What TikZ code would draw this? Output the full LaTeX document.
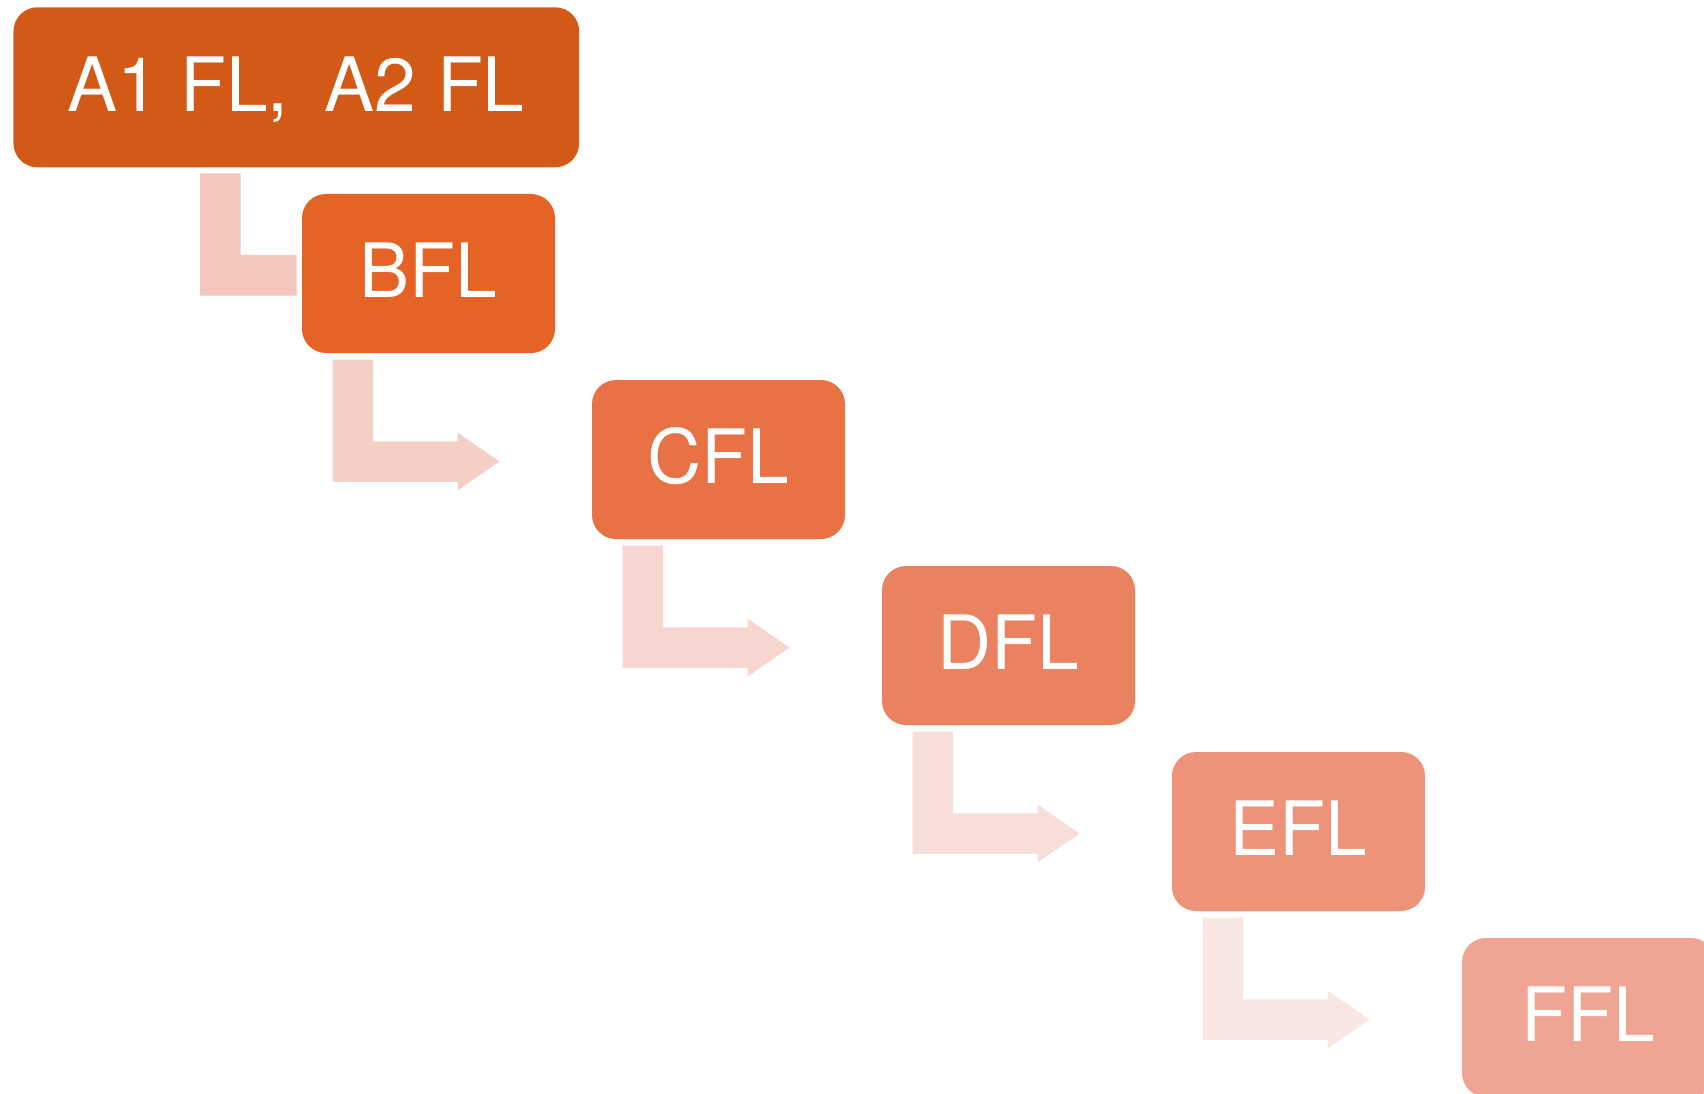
\documentclass[tikz,border=0pt]{standalone}
\usepackage{fontspec}
\setmainfont{TeX Gyre Heros}
\usetikzlibrary{calc}
\definecolor{cA}{RGB}{211,89,22}
\definecolor{cB}{RGB}{228,99,37}
\definecolor{cC}{RGB}{232,114,67}
\definecolor{cD}{RGB}{235,130,95}
\definecolor{cE}{RGB}{237,147,122}
\definecolor{cF}{RGB}{240,165,148}
\definecolor{aA}{RGB}{245,198,189}
\definecolor{aB}{RGB}{245,206,198}
\definecolor{aC}{RGB}{247,214,207}
\definecolor{aD}{RGB}{248,222,217}
\definecolor{aE}{RGB}{249,231,228}
\newcommand{\bentarr}[2]{%
  \fill[#2] (#1) -- ++(40.5,0) -- ++(0,81.75) -- ++(84.5,0) -- ++(0,-8.75)
    -- ++(42,29) -- ++(-42,29) -- ++(0,-8.75) -- ++(-125,0) -- cycle;}
\begin{document}
\begin{tikzpicture}[x=1pt,y=-1pt,
  box/.style={rounded corners=24pt, inner sep=0pt, outer sep=0pt,
    minimum width=253pt, minimum height=159pt},
  lbl/.style={text=white, font=\fontsize{75}{75}\selectfont, inner sep=0pt,
    text height=53.7pt, text depth=0pt, anchor=center}]
\useasboundingbox (0,0) rectangle (1704,1094);
\clip (0,0) rectangle (1704,1094);
\path (296.3,87.3) coordinate (pA);
\path (428.5,273.5) coordinate (pB);
\path (718.5,459.5) coordinate (pC);
\path (1008.5,645.5) coordinate (pD);
\path (1298.5,831.5) coordinate (pE);
\path (1588.5,1017.5) coordinate (pF);
% boxes
\node[box, fill=cA, minimum width=565.7pt, minimum height=160pt] (A) at (pA) {};
\node[box, fill=cB] (B) at (pB) {};
\node[box, fill=cC] (C) at (pC) {};
\node[box, fill=cD] (D) at (pD) {};
\node[box, fill=cE] (E) at (pE) {};
\node[box, fill=cF] (F) at (pF) {};
% labels
\node[lbl] (tA) at ($(A.center)+(0,-3)$) {A1 FL,\hspace{0.2em} A2 FL};
\node[lbl] (tB) at ($(B.center)+(0,-3)$) {BFL};
\node[lbl] (tC) at ($(C.center)+(0,-3)$) {CFL};
\node[lbl] (tD) at ($(D.center)+(0,-3)$) {DFL};
\node[lbl] (tE) at ($(E.center)+(0,-3)$) {EFL};
\node[lbl] (tF) at ($(F.center)+(0,-3)$) {FFL};
% bent arrows
\coordinate (s1) at ($(A.south west)+(186.7,6)$);
\fill[aA] (s1) -- ++(40.5,0) -- ++(0,81.75) coordinate (k1) -- (k1 -| {$(B.west)+(-5.5,0)$}) -- ++(0,40.5) -- ($(s1)+(0,122.25)$) -- cycle;
\coordinate (s2) at ($(B.south west)+(30.5,6.5)$);
\bentarr{s2}{aB}
\coordinate (s3) at ($(C.south west)+(30.5,6.5)$);
\bentarr{s3}{aC}
\coordinate (s4) at ($(D.south west)+(30.5,6.5)$);
\bentarr{s4}{aD}
\coordinate (s5) at ($(E.south west)+(30.5,6.5)$);
\bentarr{s5}{aE}
\end{tikzpicture}
\end{document}
